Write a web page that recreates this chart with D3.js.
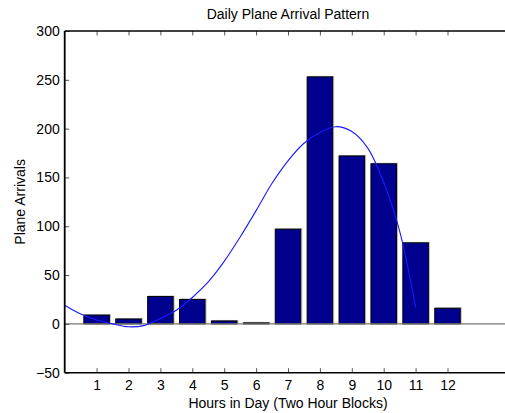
<!DOCTYPE html>
<html>
<head>
<meta charset="utf-8">
<script src="https://cdn.jsdelivr.net/npm/d3@7"></script>
<style>
  html, body { margin: 0; padding: 0; background: #fff; }
  svg { display: block; font-family: "Liberation Sans", Arial, Helvetica, sans-serif; }
</style>
</head>
<body>
<svg id="chart" width="505" height="413"></svg>
<script>
// ---- data ----
const categories = [1, 2, 3, 4, 5, 6, 7, 8, 9, 10, 11, 12];
const arrivals = [9, 5, 28, 25, 3, 1, 97, 253, 172, 164, 83, 16];
// fitted trend curve
const fitX = [0, 0.5, 1, 1.5, 2, 2.5, 3, 3.5, 4, 4.5, 5, 5.5, 6, 6.5, 7, 7.5, 8, 8.5, 9, 9.5, 10, 10.5, 11];
const fitY = [19, 10, 4, 0, -3, -1.5, 5.5, 14, 27, 43, 64, 89, 116, 144, 167, 185, 196, 202, 197, 180, 145, 95, 17];
const yTicks = [-50, 0, 50, 100, 150, 200, 250, 300];
const xTicks = categories;
const title = "Daily Plane Arrival Pattern";
const xLabel = "Hours in Day (Two Hour Blocks)";
const yLabel = "Plane Arrivals";

// ---- layout ----
const svg = d3.select("#chart");
const pLeft = 64.7, pRight = 511.3, pTop = 31, pBottom = 372.7;
const x = d3.scaleLinear().domain([0, 14]).range([pLeft, pRight]);
const y = d3.scaleLinear().domain([-50, 300]).range([pBottom, pTop]);
const fontSize = 14;
const tickLen = 4.5;

// bars: light shadow then bar
const barW = x(0.8) - x(0);
svg.append("g").selectAll("rect").data(categories).join("rect")
  .attr("x", (d) => x(d) - barW / 2 + 1)
  .attr("y", (d, i) => Math.min(y(arrivals[i]), y(0)) - 0.5)
  .attr("width", barW)
  .attr("height", (d, i) => Math.abs(y(arrivals[i]) - y(0)))
  .attr("fill", "none")
  .attr("stroke", "#b8b8b8")
  .attr("stroke-width", 1);
svg.append("g").selectAll("rect").data(categories).join("rect")
  .attr("x", (d) => x(d) - barW / 2)
  .attr("y", (d, i) => Math.min(y(arrivals[i]), y(0)))
  .attr("width", barW)
  .attr("height", (d, i) => Math.abs(y(arrivals[i]) - y(0)))
  .attr("fill", "#00008f")
  .attr("stroke", "#000")
  .attr("stroke-width", 1);

// baseline at zero
svg.append("line")
  .attr("x1", pLeft).attr("x2", pRight)
  .attr("y1", y(0)).attr("y2", y(0))
  .attr("stroke", "#777").attr("stroke-width", 1.2);

// fitted curve
const line = d3.line().x((d) => x(d[0])).y((d) => y(d[1])).curve(d3.curveCatmullRom);
svg.append("path")
  .datum(fitX.map((v, i) => [v, fitY[i]]))
  .attr("d", line)
  .attr("fill", "none")
  .attr("stroke", "#1a1aff")
  .attr("stroke-width", 1.1);

// axes
function styleAxis(g) {
  g.select(".domain").remove();
  g.selectAll(".tick line").attr("stroke", "#555").attr("stroke-width", 1);
  g.selectAll(".tick text").attr("fill", "#000").attr("font-size", fontSize)
    .attr("font-family", "'Liberation Sans', Arial, Helvetica, sans-serif");
}
svg.append("g").attr("transform", `translate(0,${pBottom})`)
  .call(d3.axisBottom(x).tickValues(xTicks).tickSizeInner(-tickLen).tickSizeOuter(0).tickPadding(7).tickFormat(d3.format("d")))
  .call(styleAxis);
svg.append("g").attr("transform", `translate(0,${pTop})`)
  .call(d3.axisTop(x).tickValues(xTicks).tickSizeInner(-tickLen).tickSizeOuter(0).tickFormat(""))
  .call(styleAxis);
svg.append("g").attr("transform", `translate(${pLeft},0)`)
  .call(d3.axisLeft(y).tickValues(yTicks).tickSizeInner(-tickLen).tickSizeOuter(0).tickPadding(5))
  .call(styleAxis);

// axis lines
svg.append("line").attr("x1", pLeft).attr("x2", pRight).attr("y1", pTop).attr("y2", pTop)
  .attr("stroke", "#000").attr("stroke-width", 1.5);
svg.append("line").attr("x1", pLeft).attr("x2", pRight).attr("y1", pBottom).attr("y2", pBottom)
  .attr("stroke", "#000").attr("stroke-width", 1.5);
svg.append("line").attr("x1", pLeft).attr("x2", pLeft).attr("y1", pTop).attr("y2", pBottom)
  .attr("stroke", "#000").attr("stroke-width", 1.8);

// labels
svg.append("text").attr("x", (pLeft + pRight) / 2).attr("y", 19)
  .attr("text-anchor", "middle").attr("font-size", fontSize).text(title);
svg.append("text").attr("x", (pLeft + pRight) / 2).attr("y", 408)
  .attr("text-anchor", "middle").attr("font-size", fontSize).text(xLabel);
svg.append("text").attr("transform", `translate(25,${(pTop + pBottom) / 2}) rotate(-90)`)
  .attr("text-anchor", "middle").attr("font-size", fontSize).text(yLabel);
</script>
</body>
</html>
